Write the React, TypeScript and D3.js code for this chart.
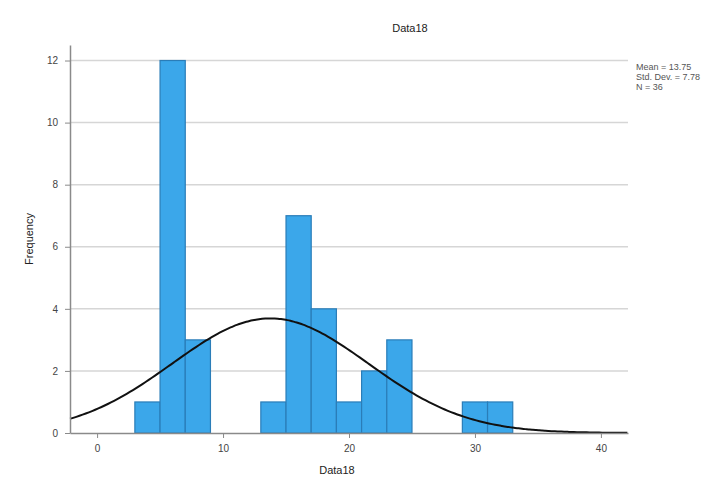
import React, { useEffect, useRef } from 'react';
import * as d3 from 'd3';

// histogram bins (lower edge) and their counts, bin width 2
const binStarts = [3, 5, 7, 13, 15, 17, 19, 21, 23, 29, 31];
const counts = [1, 12, 3, 1, 7, 4, 1, 2, 3, 1, 1];
const binWidth = 2;

const xTicks = [0, 10, 20, 30, 40];
const yTicks = [0, 2, 4, 6, 8, 10, 12];

const varName = 'Data18';
const mean = 13.75;
const sd = 7.78;
const n = 36;

const App = () => {
  const ref = useRef<SVGSVGElement>(null);

  useEffect(() => {
    const svg = d3.select(ref.current);
    svg.selectAll('*').remove();

    const W = 722;
    const H = 486;
    const left = 70, right = 628, top = 45, bottom = 433;

    const x = d3.scaleLinear().domain([-2.15, 42.15]).range([left, right]);
    const y = d3.scaleLinear().domain([0, 12.5]).range([bottom, top]);

    svg.attr('width', W).attr('height', H);

    // gridlines
    svg.append('g')
      .selectAll('line')
      .data(yTicks.filter(d => d > 0))
      .enter()
      .append('line')
      .attr('x1', left)
      .attr('x2', right)
      .attr('y1', d => y(d))
      .attr('y2', d => y(d))
      .attr('stroke', '#d6d6d6')
      .attr('stroke-width', 1.5);

    // bars
    svg.append('g')
      .selectAll('rect')
      .data(binStarts.map((s, i) => ({ s, c: counts[i] })))
      .enter()
      .append('rect')
      .attr('x', d => x(d.s))
      .attr('y', d => y(d.c))
      .attr('width', d => x(d.s + binWidth) - x(d.s))
      .attr('height', d => y(0) - y(d.c))
      .attr('fill', '#3ba7ea')
      .attr('stroke', '#2a7db8')
      .attr('stroke-width', 1.2);

    // normal curve from the legend stats
    const dens = (v: number) =>
      (n * binWidth) / (sd * Math.sqrt(2 * Math.PI)) * Math.exp(-0.5 * ((v - mean) / sd) ** 2);
    const pts = d3.range(-2.15, 42.2, 0.25).map(v => [v, dens(v)] as [number, number]);
    svg.append('path')
      .datum(pts)
      .attr('fill', 'none')
      .attr('stroke', '#111')
      .attr('stroke-width', 2)
      .attr('d', d3.line<[number, number]>().x(d => x(d[0])).y(d => y(d[1])).curve(d3.curveBasis));

    // axes
    const xAxis = svg.append('g')
      .attr('transform', `translate(0,${bottom})`)
      .call(d3.axisBottom(x).tickValues(xTicks).tickSize(5).tickSizeOuter(0));
    xAxis.select('.domain').attr('stroke', '#8a8a8a').attr('stroke-width', 1.5);
    xAxis.selectAll('.tick line').attr('stroke', '#8a8a8a');
    xAxis.selectAll('text')
      .attr('dy', '1.1em')
      .style('font-size', '10px')
      .style('font-family', 'Arial, "Liberation Sans", sans-serif')
      .attr('fill', '#444');

    const yAxis = svg.append('g')
      .attr('transform', `translate(${left},0)`)
      .call(d3.axisLeft(y).tickValues(yTicks).tickSize(5).tickSizeOuter(0));
    yAxis.select('.domain').attr('stroke', '#8a8a8a').attr('stroke-width', 1.5);
    yAxis.selectAll('.tick line').attr('stroke', '#8a8a8a');
    yAxis.selectAll('text')
      .attr('x', -12)
      .style('font-size', '10px')
      .style('font-family', 'Arial, "Liberation Sans", sans-serif')
      .attr('fill', '#444');

    const font = 'Arial, "Liberation Sans", sans-serif';

    svg.append('text')
      .attr('x', 410)
      .attr('y', 32)
      .attr('text-anchor', 'middle')
      .style('font-size', '11px')
      .style('font-family', font)
      .attr('fill', '#222')
      .text(varName);

    svg.append('text')
      .attr('x', (left + right) / 2 - 12)
      .attr('y', 474)
      .attr('text-anchor', 'middle')
      .style('font-size', '11px')
      .style('font-family', font)
      .attr('fill', '#222')
      .text(varName);

    svg.append('text')
      .attr('transform', `translate(33,${(top + bottom) / 2}) rotate(-90)`)
      .attr('text-anchor', 'middle')
      .style('font-size', '11px')
      .style('font-family', font)
      .attr('fill', '#222')
      .text('Frequency');

    // stats legend
    const legend = svg.append('text')
      .attr('x', 636)
      .attr('y', 70)
      .style('font-size', '9px')
      .style('font-family', font)
      .attr('fill', '#555');
    [`Mean = ${mean}`, `Std. Dev. = ${sd}`, `N = ${n}`].forEach((t, i) => {
      legend.append('tspan').attr('x', 636).attr('dy', i === 0 ? 0 : 10).text(t);
    });
  }, []);

  return (
    <svg ref={ref} style={{ position: 'absolute', left: 0, top: 0, background: '#fff' }}></svg>
  );
};

export default App;
